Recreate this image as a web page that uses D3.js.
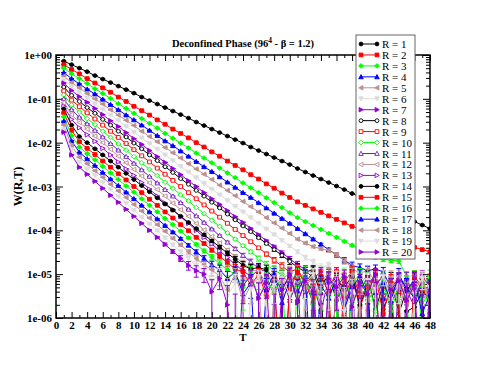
<!DOCTYPE html>
<html>
<head>
<meta charset="utf-8">
<script src="https://cdn.jsdelivr.net/npm/d3@7"></script>
<style>
body { margin: 0; background: #fff; }
text { font-family: "Liberation Serif", "Times New Roman", serif; }
</style>
</head>
<body>
<div class="chart"></div>
<script>
// W(R,T), stored as log10 values for T = 1..48
// (-8 means the point fell below zero / off the bottom of the log axis)
const T = [1,2,3,4,5,6,7,8,9,10,11,12,13,14,15,16,17,18,19,20,21,22,23,24,25,26,27,28,29,30,31,32,33,34,35,36,37,38,39,40,41,42,43,44,45,46,47,48];

const r1  = [-0.14,-0.22,-0.30,-0.38,-0.47,-0.55,-0.63,-0.71,-0.79,-0.87,-0.96,-1.04,-1.12,-1.20,-1.28,-1.36,-1.44,-1.53,-1.61,-1.69,-1.77,-1.85,-1.93,-2.01,-2.10,-2.18,-2.26,-2.34,-2.42,-2.50,-2.59,-2.67,-2.75,-2.83,-2.91,-2.99,-3.07,-3.16,-3.24,-3.32,-3.40,-3.48,-3.56,-3.64,-3.73,-3.80,-3.88,-3.96];
const r2  = [-0.22,-0.33,-0.43,-0.54,-0.64,-0.75,-0.85,-0.96,-1.06,-1.17,-1.27,-1.37,-1.48,-1.58,-1.69,-1.79,-1.89,-2.00,-2.10,-2.21,-2.31,-2.42,-2.52,-2.62,-2.73,-2.83,-2.94,-3.04,-3.15,-3.25,-3.35,-3.43,-3.51,-3.59,-3.67,-3.75,-3.83,-3.91,-3.97,-4.03,-4.09,-4.15,-4.21,-4.27,-4.33,-4.39,-4.44,-4.49];
const r3  = [-0.30,-0.43,-0.54,-0.65,-0.77,-0.88,-0.99,-1.11,-1.22,-1.33,-1.45,-1.56,-1.67,-1.79,-1.90,-2.01,-2.12,-2.24,-2.35,-2.46,-2.58,-2.69,-2.80,-2.92,-3.03,-3.14,-3.26,-3.37,-3.48,-3.60,-3.71,-3.80,-3.89,-3.98,-4.07,-4.16,-4.25,-4.34,-4.43,-4.52,-4.61,-4.66,-4.68,-4.70,-5.05,-5.60,-5.25,-5.80];
const r4  = [-0.40,-0.54,-0.66,-0.78,-0.89,-1.01,-1.13,-1.25,-1.37,-1.48,-1.60,-1.72,-1.84,-1.96,-2.07,-2.19,-2.31,-2.43,-2.55,-2.66,-2.78,-2.90,-3.02,-3.14,-3.25,-3.37,-3.49,-3.61,-3.73,-3.84,-3.96,-4.08,-4.20,-4.32,-4.44,-4.56,-4.68,-4.80,-4.85,-4.92,-4.88,-4.95,-5.32,-5.10,-5.30,-5.55,-8,-5.85];
const r5  = [-0.48,-0.63,-0.75,-0.88,-1.00,-1.12,-1.25,-1.37,-1.49,-1.61,-1.74,-1.86,-1.98,-2.11,-2.23,-2.35,-2.48,-2.60,-2.72,-2.84,-2.97,-3.09,-3.21,-3.34,-3.46,-3.58,-3.71,-3.83,-3.95,-4.07,-4.20,-4.29,-4.37,-4.42,-4.46,-4.55,-4.70,-4.85,-5.00,-4.90,-5.20,-5.05,-5.45,-5.25,-5.70,-5.15,-5.50,-8];
const r6  = [-0.56,-0.72,-0.85,-0.98,-1.11,-1.24,-1.37,-1.50,-1.63,-1.76,-1.89,-2.02,-2.15,-2.28,-2.41,-2.54,-2.67,-2.80,-2.93,-3.06,-3.19,-3.32,-3.45,-3.58,-3.71,-3.84,-3.97,-4.10,-4.23,-4.36,-4.49,-4.62,-4.72,-4.85,-4.80,-5.05,-4.95,-5.30,-5.10,-5.45,-5.20,-5.60,-5.15,-5.40,-8,-5.30,-5.65,-5.20];
const r7  = [-0.64,-0.81,-0.95,-1.08,-1.22,-1.36,-1.50,-1.63,-1.77,-1.91,-2.04,-2.18,-2.32,-2.45,-2.59,-2.73,-2.87,-3.00,-3.14,-3.28,-3.41,-3.55,-3.69,-3.82,-3.96,-4.10,-4.24,-4.37,-4.51,-4.65,-4.78,-4.90,-5.10,-4.95,-5.40,-5.00,-5.70,-5.20,-8,-5.35,-5.05,-5.60,-5.25,-8,-5.40,-5.10,-5.75,-8];
const r8  = [-0.73,-0.92,-1.06,-1.20,-1.33,-1.47,-1.60,-1.74,-1.87,-2.01,-2.14,-2.28,-2.41,-2.55,-2.68,-2.82,-2.95,-3.09,-3.22,-3.36,-3.49,-3.63,-3.76,-3.90,-4.03,-4.17,-4.30,-4.44,-4.57,-4.71,-4.84,-4.95,-4.90,-5.30,-5.00,-5.60,-5.15,-8,-5.40,-5.05,-5.80,-5.25,-5.10,-5.90,-5.35,-5.20,-5.45,-8];
const r9  = [-0.82,-1.03,-1.18,-1.32,-1.46,-1.60,-1.74,-1.88,-2.02,-2.16,-2.30,-2.44,-2.58,-2.72,-2.86,-3.00,-3.14,-3.28,-3.42,-3.56,-3.70,-3.84,-3.98,-4.12,-4.26,-4.40,-4.54,-4.68,-4.82,-4.95,-4.88,-5.20,-5.05,-8,-5.35,-4.95,-5.50,-5.10,-5.75,-5.30,-5.00,-8,-5.45,-5.15,-5.60,-5.05,-5.30,-5.15];
const r10 = [-0.91,-1.14,-1.30,-1.45,-1.59,-1.74,-1.88,-2.03,-2.17,-2.32,-2.46,-2.61,-2.75,-2.90,-3.04,-3.19,-3.33,-3.48,-3.62,-3.77,-3.91,-4.06,-4.20,-4.35,-4.49,-4.64,-4.78,-4.92,-5.00,-5.25,-4.90,-5.55,-5.10,-5.35,-8,-5.20,-5.00,-5.65,-5.30,-5.10,-5.85,-5.40,-5.20,-8,-5.50,-5.05,-5.70,-5.35];
const r11 = [-1.00,-1.25,-1.42,-1.57,-1.72,-1.87,-2.02,-2.17,-2.32,-2.47,-2.62,-2.77,-2.92,-3.07,-3.22,-3.37,-3.52,-3.67,-3.82,-3.97,-4.12,-4.27,-4.42,-4.57,-4.72,-4.87,-4.95,-5.30,-5.05,-5.60,-5.15,-8,-5.35,-5.00,-5.45,-5.20,-5.90,-5.10,-5.40,-8,-5.25,-5.05,-5.65,-5.30,-5.10,-5.55,-8,-5.20];
const r12 = [-1.09,-1.36,-1.54,-1.69,-1.85,-2.00,-2.15,-2.31,-2.46,-2.61,-2.76,-2.92,-3.07,-3.22,-3.38,-3.53,-3.68,-3.84,-3.99,-4.14,-4.29,-4.45,-4.60,-4.75,-4.88,-4.95,-5.20,-4.90,-5.45,-5.10,-5.30,-5.05,-5.70,-5.20,-4.95,-5.40,-5.15,-8,-5.25,-5.00,-5.55,-5.30,-5.05,-5.80,-5.20,-5.40,-5.10,-5.60];
const r13 = [-1.17,-1.47,-1.66,-1.82,-1.97,-2.13,-2.28,-2.44,-2.60,-2.75,-2.91,-3.06,-3.22,-3.38,-3.53,-3.69,-3.84,-4.00,-4.16,-4.31,-4.47,-4.62,-4.78,-4.92,-5.05,-4.90,-5.40,-5.15,-8,-5.25,-4.95,-5.50,-5.20,-5.85,-5.10,-5.35,-8,-5.05,-5.60,-5.25,-5.00,-5.45,-8,-5.15,-5.35,-5.75,-5.05,-5.30];
const r14 = [-1.23,-1.60,-1.86,-2.00,-2.14,-2.28,-2.42,-2.56,-2.70,-2.84,-2.98,-3.12,-3.26,-3.40,-3.54,-3.68,-3.82,-3.96,-4.10,-4.24,-4.38,-4.52,-4.66,-4.80,-4.88,-4.85,-4.90,-5.10,-5.35,-5.05,-5.60,-5.20,-4.95,-5.45,-8,-5.15,-5.30,-5.05,-5.70,-5.25,-8,-5.80,-5.35,-8,-5.85,-5.75,-5.40,-5.55];
const r15 = [-1.32,-1.72,-1.98,-2.13,-2.27,-2.42,-2.56,-2.71,-2.85,-3.00,-3.14,-3.29,-3.43,-3.58,-3.72,-3.87,-4.01,-4.16,-4.30,-4.45,-4.59,-4.74,-4.88,-4.95,-5.25,-5.00,-5.50,-5.10,-8,-5.35,-4.95,-5.20,-5.65,-5.05,-5.40,-8,-5.15,-4.95,-5.50,-5.30,-5.05,-5.90,-5.20,-5.45,-8,-5.10,-5.35,-5.60];
const r16 = [-1.41,-1.84,-2.10,-2.25,-2.39,-2.54,-2.69,-2.84,-2.99,-3.13,-3.28,-3.43,-3.58,-3.73,-3.87,-4.02,-4.17,-4.32,-4.47,-4.61,-4.76,-4.90,-5.00,-5.30,-4.95,-5.55,-5.15,-5.40,-5.05,-8,-5.25,-4.95,-5.70,-5.30,-5.10,-5.45,-8,-5.20,-5.00,-5.60,-5.35,-5.15,-5.85,-5.25,-5.50,-8,-5.30,-5.05];
const r17 = [-1.51,-1.96,-2.22,-2.37,-2.52,-2.68,-2.83,-2.98,-3.13,-3.28,-3.43,-3.58,-3.74,-3.89,-4.04,-4.19,-4.34,-4.49,-4.64,-4.79,-4.90,-5.10,-4.95,-5.45,-5.20,-8,-5.35,-5.00,-5.65,-5.15,-5.40,-5.05,-8,-5.25,-5.55,-5.10,-5.80,-5.30,-5.05,-5.45,-8,-5.20,-5.60,-5.00,-5.35,-5.15,-5.90,-5.45];
const r18 = [-1.60,-2.07,-2.33,-2.48,-2.64,-2.79,-2.95,-3.10,-3.25,-3.41,-3.56,-3.72,-3.87,-4.02,-4.18,-4.33,-4.49,-4.64,-4.79,-4.90,-5.05,-5.35,-5.00,-5.60,-5.25,-5.10,-8,-5.40,-5.15,-4.95,-5.50,-5.30,-5.05,-5.75,-8,-5.20,-5.45,-5.00,-5.35,-5.60,-5.10,-8,-5.30,-5.05,-5.55,-5.25,-5.15,-5.70];
const r19 = [-1.69,-2.16,-2.44,-2.60,-2.75,-2.91,-3.07,-3.23,-3.38,-3.54,-3.70,-3.86,-4.01,-4.17,-4.33,-4.49,-4.64,-4.80,-4.92,-5.15,-5.00,-5.50,-5.20,-8,-5.35,-5.05,-5.70,-5.25,-5.10,-5.45,-8,-5.20,-5.00,-5.55,-5.30,-5.10,-5.85,-5.40,-8,-5.15,-5.35,-5.05,-5.60,-5.25,-8,-5.45,-5.10,-5.30];
const r20 = [-1.76,-2.28,-2.56,-2.72,-2.88,-3.04,-3.20,-3.36,-3.52,-3.68,-3.84,-4.00,-4.16,-4.32,-4.48,-4.64,-4.80,-4.92,-5.00,-5.40,-5.10,-5.70,-8,-5.25,-5.05,-5.55,-5.20,-8,-5.35,-5.00,-5.65,-5.15,-5.40,-8,-5.10,-5.30,-5.05,-5.75,-5.20,-5.45,-5.00,-8,-5.35,-5.15,-5.60,-5.25,-8,-5.40];

const seriesLog = [r1,r2,r3,r4,r5,r6,r7,r8,r9,r10,r11,r12,r13,r14,r15,r16,r17,r18,r19,r20];
const R = [1,2,3,4,5,6,7,8,9,10,11,12,13,14,15,16,17,18,19,20];
// absolute statistical error per series (roughly constant in the noise floor)
const errAbs = [2e-6,2e-6,2.5e-6,3e-6,3e-6,3e-6,3e-6,3e-6,3e-6,3e-6,3e-6,3e-6,3e-6,3.5e-6,3.5e-6,3.5e-6,3.5e-6,3.5e-6,3.5e-6,3.5e-6];

const colors = ["#000000","#ff0000","#00ff00","#0000ff","#bc8f8f","#dcdcdc","#9400d3",
                "#000000","#ff0000","#00ff00","#7221bc","#bc8f8f","#9400d3",
                "#000000","#ff0000","#00ff00","#0000ff","#bc8f8f","#dcdcdc","#9400d3"];
const shapes = ["circle","square","diamond","up","left","down","right",
                "circle","square","diamond","up","left","right",
                "circle","square","diamond","up","left","down","right"];
const filled = [1,1,1,1,1,1,1, 0,0,0,0,0,0, 1,1,1,1,1,1,1];

const xTicks = [0,2,4,6,8,10,12,14,16,18,20,22,24,26,28,30,32,34,36,38,40,42,44,46,48];
const yTicks = [1,1e-1,1e-2,1e-3,1e-4,1e-5,1e-6];
const yTickLabels = ["1e+00","1e-01","1e-02","1e-03","1e-04","1e-05","1e-06"];

const W = 485, H = 374;
const margin = {top: 55, left: 56, right: 55, bottom: 56};
const width = W - margin.left - margin.right;
const height = H - margin.top - margin.bottom;

const x = d3.scaleLinear().domain([0, 48]).range([0, width]);
const y = d3.scaleLog().domain([1e-6, 1]).range([height, 0]);

const svg = d3.select(".chart").append("svg")
    .attr("width", W)
    .attr("height", H);

const g = svg.append("g")
    .attr("transform", `translate(${margin.left},${margin.top})`);

g.append("clipPath").attr("id", "clip")
    .append("rect").attr("width", width).attr("height", height);

// minor ticks
const xMinor = d3.range(1, 48, 2);
const yMinor = [];
yTicks.slice(1).forEach(d => { for (let m = 2; m <= 9; m++) yMinor.push(d * m); });

function axisStyle(sel) {
    sel.select(".domain").remove();
    sel.selectAll("line").attr("stroke", "#000").attr("stroke-width", 1);
    sel.selectAll("text").attr("font-size", 11).attr("font-weight", "bold")
        .attr("fill", "#000").style("font-family", '"Liberation Serif", serif');
}

g.append("g").attr("transform", `translate(0,${height})`)
    .call(d3.axisBottom(x).tickValues(xTicks).tickSizeInner(-6).tickSizeOuter(0).tickPadding(3).tickFormat(d3.format("d")))
    .call(axisStyle);
g.append("g").attr("transform", `translate(0,${height})`)
    .call(d3.axisBottom(x).tickValues(xMinor).tickSize(-3).tickFormat(""))
    .call(axisStyle);
g.append("g")
    .call(d3.axisTop(x).tickValues(xTicks).tickSize(-6).tickFormat(""))
    .call(axisStyle);
g.append("g")
    .call(d3.axisTop(x).tickValues(xMinor).tickSize(-3).tickFormat(""))
    .call(axisStyle);

g.append("g")
    .call(d3.axisLeft(y).tickValues(yTicks).tickSizeInner(-7).tickSizeOuter(0).tickPadding(4)
        .tickFormat((d, i) => yTickLabels[i]))
    .call(axisStyle);
g.append("g")
    .call(d3.axisLeft(y).tickValues(yMinor).tickSize(-4).tickFormat(""))
    .call(axisStyle);
g.append("g").attr("transform", `translate(${width},0)`)
    .call(d3.axisRight(y).tickValues(yTicks).tickSize(-7).tickFormat(""))
    .call(axisStyle);
g.append("g").attr("transform", `translate(${width},0)`)
    .call(d3.axisRight(y).tickValues(yMinor).tickSize(-4).tickFormat(""))
    .call(axisStyle);

// marker shapes
function markerPath(type, s) {
    switch (type) {
        case "circle": return d3.symbol(d3.symbolCircle, Math.PI * s * s)();
        case "square": return `M${-s},${-s}H${s}V${s}H${-s}Z`;
        case "diamond": return `M0,${-s * 1.25}L${s * 1.25},0L0,${s * 1.25}L${-s * 1.25},0Z`;
        case "up": return `M0,${-s * 1.2}L${s * 1.2},${s}L${-s * 1.2},${s}Z`;
        case "down": return `M0,${s * 1.2}L${s * 1.2},${-s}L${-s * 1.2},${-s}Z`;
        case "left": return `M${-s * 1.2},0L${s},${-s * 1.2}L${s},${s * 1.2}Z`;
        case "right": return `M${s * 1.2},0L${-s},${-s * 1.2}L${-s},${s * 1.2}Z`;
    }
}

const plot = g.append("g").attr("clip-path", "url(#clip)");

const line = d3.line()
    .x(d => x(d.t))
    .y(d => y(d.w));

seriesLog.forEach((arr, k) => {
    const data = arr.map((v, i) => ({t: T[i], w: Math.pow(10, v), e: errAbs[k]}));
    const col = colors[k];
    const sg = plot.append("g");

    sg.append("path")
        .datum(data)
        .attr("fill", "none")
        .attr("stroke", col)
        .attr("stroke-width", 1)
        .attr("d", line);

    // error bars
    const eb = sg.selectAll(".err").data(data).enter().append("g");
    eb.append("line")
        .attr("x1", d => x(d.t)).attr("x2", d => x(d.t))
        .attr("y1", d => y(d.w + d.e))
        .attr("y2", d => d.w - d.e > 1e-9 ? y(d.w - d.e) : height + 10)
        .attr("stroke", col).attr("stroke-width", 1);
    eb.append("line")
        .attr("x1", d => x(d.t) - 2.5).attr("x2", d => x(d.t) + 2.5)
        .attr("y1", d => y(d.w + d.e)).attr("y2", d => y(d.w + d.e))
        .attr("stroke", col).attr("stroke-width", 1);
    eb.filter(d => d.w - d.e > 1e-9).append("line")
        .attr("x1", d => x(d.t) - 2.5).attr("x2", d => x(d.t) + 2.5)
        .attr("y1", d => y(d.w - d.e)).attr("y2", d => y(d.w - d.e))
        .attr("stroke", col).attr("stroke-width", 1);

    sg.selectAll(".mk").data(data).enter().append("path")
        .attr("transform", d => `translate(${x(d.t)},${y(d.w)})`)
        .attr("d", markerPath(shapes[k], 1.9))
        .attr("fill", filled[k] ? col : "#fff")
        .attr("stroke", col)
        .attr("stroke-width", 0.9);
});

// frame
g.append("rect")
    .attr("width", width).attr("height", height)
    .attr("fill", "none").attr("stroke", "#000").attr("stroke-width", 1.5);

// axis titles
svg.append("text")
    .attr("x", margin.left + width / 2)
    .attr("y", 341)
    .attr("text-anchor", "middle")
    .attr("font-size", 11).attr("font-weight", "bold")
    .text("T");

svg.append("text")
    .attr("transform", `translate(22,${margin.top + height / 2}) rotate(-90)`)
    .attr("text-anchor", "middle")
    .attr("font-size", 12).attr("font-weight", "bold")
    .text("W(R,T)");

const title = svg.append("text")
    .attr("x", margin.left + width / 2)
    .attr("y", 47)
    .attr("text-anchor", "middle")
    .attr("font-size", 10.5).attr("font-weight", "bold");
title.append("tspan").text("Deconfined Phase (96");
title.append("tspan").attr("dy", -4).attr("font-size", 7.5).text("4");
title.append("tspan").attr("dy", 4).text(" - \u03b2 = 1.2)");

// legend
const legend = svg.append("g");
legend.append("rect")
    .attr("x", 356).attr("y", 35)
    .attr("width", 59).attr("height", 224)
    .attr("fill", "#fff").attr("stroke", "#666").attr("stroke-width", 1);

R.forEach((r, k) => {
    const ly = 44 + k * 10.95;
    const col = colors[k];
    legend.append("line")
        .attr("x1", 361).attr("x2", 377)
        .attr("y1", ly).attr("y2", ly)
        .attr("stroke", col).attr("stroke-width", 1);
    [361, 377].forEach(lx => {
        legend.append("path")
            .attr("transform", `translate(${lx},${ly})`)
            .attr("d", markerPath(shapes[k], 1.9))
            .attr("fill", filled[k] ? col : "#fff")
            .attr("stroke", col).attr("stroke-width", 0.9);
    });
    legend.append("text")
        .attr("x", 382).attr("y", ly + 4)
        .attr("font-size", 11)
        .text(`R = ${r}`);
});
</script>
</body>
</html>
